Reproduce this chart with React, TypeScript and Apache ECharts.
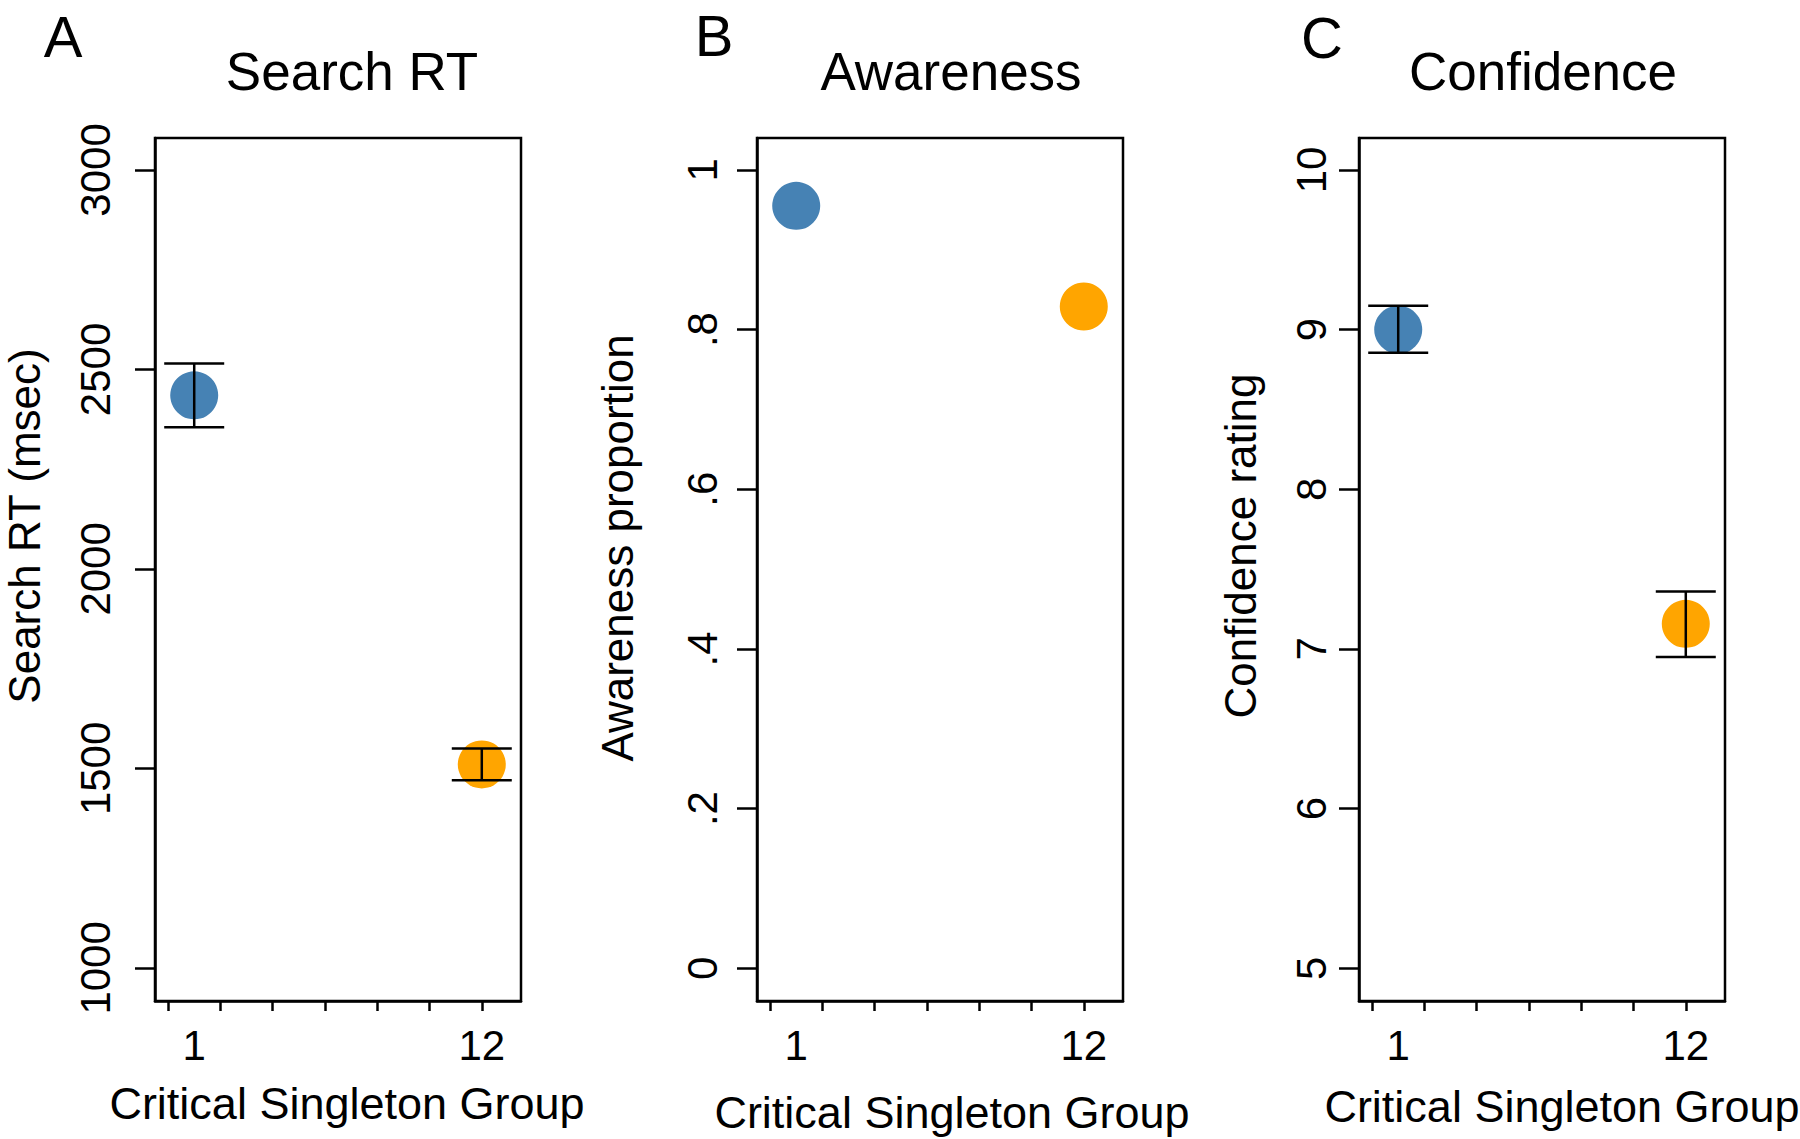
import React, { useEffect, useRef } from "react";
import * as echarts from "echarts";

// ---------- data ----------
const groups = [1, 12];
const groupColors = ["#4682B4", "#FFA500"];

const rtMean = [2435, 1510];
const rtLow = [2355, 1470];
const rtHigh = [2515, 1550];

const awareness = [0.955, 0.829];

const confMean = [9.0, 7.157];
const confLow = [8.855, 6.95];
const confHigh = [9.15, 7.36];

const xTicks = [0, 2, 4, 6, 8, 10, 12];
const xLabels = [1, 12];
const rtTicks = [1000, 1500, 2000, 2500, 3000];
const awTicks = [0, 0.2, 0.4, 0.6, 0.8, 1];
const confTicks = [5, 6, 7, 8, 9, 10];

const panelLetters = ["A", "B", "C"];
const panelTitles = ["Search RT", "Awareness", "Confidence"];
const yTitles = ["Search RT (msec)", "Awareness proportion", "Confidence rating"];
const xTitle = "Critical Singleton Group";

const FONT = '"Liberation Sans", Arial, Helvetica, sans-serif';

function awFmt(v: number): string {
  if (v === 0) return "0";
  if (v === 1) return "1";
  return String(v).replace(/^0/, "");
}

export default function App() {
  const ref = useRef<HTMLDivElement>(null);

  useEffect(() => {
    if (!ref.current) return;
    const chart = echarts.init(ref.current, undefined, { renderer: "svg" });

    const gridLefts = [155, 757, 1359];
    const gridTop = 138;
    const gridW = 366;
    const gridH = 863;
    const yRanges = [
      [917, 3080],
      [-0.041, 1.04],
      [4.795, 10.2],
    ];
    const yTickSets = [rtTicks, awTicks, confTicks];
    const yLabelMargins = [39, 34, 27];
    const yFormatters = [
      (v: number) => String(v),
      (v: number) => awFmt(v),
      (v: number) => String(v),
    ];

    const grids = gridLefts.map((l) => ({
      left: l,
      top: gridTop,
      width: gridW,
      height: gridH,
      show: true,
      borderColor: "#000",
      borderWidth: 2.5,
      backgroundColor: "transparent",
      containLabel: false,
    }));

    const xAxes = gridLefts.map((_, i) => ({
      type: "value",
      gridIndex: i,
      min: -0.5,
      max: 13.5,
      splitLine: { show: false },
      axisLine: { show: true, onZero: false, lineStyle: { color: "#000", width: 2.5 } },
      axisTick: {
        show: true,
        customValues: xTicks,
        length: 10,
        inside: false,
        lineStyle: { color: "#000", width: 2.5 },
      },
      axisLabel: {
        show: true,
        customValues: xLabels,
        formatter: (v: number) => String(v),
        fontSize: 42,
        fontFamily: FONT,
        color: "#000",
        margin: 23,
      },
    }));

    const yAxes = gridLefts.map((_, i) => ({
      type: "value",
      gridIndex: i,
      min: yRanges[i][0],
      max: yRanges[i][1],
      splitLine: { show: false },
      axisLine: { show: true, onZero: false, lineStyle: { color: "#000", width: 2.5 } },
      axisTick: {
        show: true,
        customValues: yTickSets[i],
        length: 20,
        inside: false,
        lineStyle: { color: "#000", width: 2.5 },
      },
      axisLabel: {
        show: true,
        customValues: yTickSets[i],
        formatter: yFormatters[i],
        rotate: 90,
        fontSize: 42,
        fontFamily: FONT,
        color: "#000",
        margin: yLabelMargins[i],
      },
    }));

    const errRender = (params: any, api: any) => {
      const x = api.value(0);
      const lo = api.value(1);
      const hi = api.value(2);
      const pLo = api.coord([x, lo]);
      const pHi = api.coord([x, hi]);
      const hw = 30;
      const st = { stroke: "#000", lineWidth: 2.5 };
      return {
        type: "group",
        children: [
          { type: "line", shape: { x1: pLo[0], y1: pLo[1], x2: pHi[0], y2: pHi[1] }, style: st },
          { type: "line", shape: { x1: pLo[0] - hw, y1: pLo[1], x2: pLo[0] + hw, y2: pLo[1] }, style: st },
          { type: "line", shape: { x1: pHi[0] - hw, y1: pHi[1], x2: pHi[0] + hw, y2: pHi[1] }, style: st },
        ],
      };
    };

    const means = [rtMean, awareness, confMean];
    const series: any[] = [];
    means.forEach((m, i) => {
      series.push({
        type: "scatter",
        xAxisIndex: i,
        yAxisIndex: i,
        symbol: "circle",
        symbolSize: 48,
        z: 2,
        itemStyle: { opacity: 1 },
        data: groups.map((g, k) => ({
          value: [g, m[k]],
          itemStyle: { color: groupColors[k], opacity: 1 },
        })),
      });
    });
    const errSets = [
      { i: 0, lo: rtLow, hi: rtHigh },
      { i: 2, lo: confLow, hi: confHigh },
    ];
    errSets.forEach((e) => {
      series.push({
        type: "custom",
        xAxisIndex: e.i,
        yAxisIndex: e.i,
        z: 5,
        renderItem: errRender,
        encode: { x: 0, y: [1, 2] },
        data: groups.map((g, k) => [g, e.lo[k], e.hi[k]]),
      });
    });

    const letterPos = [
      [63, 36],
      [714, 35],
      [1322, 37],
    ];
    const titleX = [352, 951, 1543];
    const yTitlePos = [
      [24, 526],
      [617, 548],
      [1240, 546],
    ];
    const xTitlePos = [
      [347, 1103],
      [952, 1112],
      [1562, 1106],
    ];

    const graphics: any[] = [];
    for (let i = 0; i < 3; i++) {
      graphics.push({
        type: "text",
        x: letterPos[i][0],
        y: letterPos[i][1],
        style: {
          text: panelLetters[i],
          fontSize: 58,
          fontFamily: FONT,
          fill: "#000",
          textAlign: "center",
          textVerticalAlign: "middle",
        },
      });
      graphics.push({
        type: "text",
        x: titleX[i],
        y: 71,
        style: {
          text: panelTitles[i],
          fontSize: 53,
          fontFamily: FONT,
          fill: "#000",
          textAlign: "center",
          textVerticalAlign: "middle",
        },
      });
      graphics.push({
        type: "text",
        x: yTitlePos[i][0],
        y: yTitlePos[i][1],
        rotation: Math.PI / 2,
        style: {
          text: yTitles[i],
          fontSize: 44,
          fontFamily: FONT,
          fill: "#000",
          textAlign: "center",
          textVerticalAlign: "middle",
        },
      });
      graphics.push({
        type: "text",
        x: xTitlePos[i][0],
        y: xTitlePos[i][1],
        style: {
          text: xTitle,
          fontSize: 45,
          fontFamily: FONT,
          fill: "#000",
          textAlign: "center",
          textVerticalAlign: "middle",
        },
      });
    }

    chart.setOption({
      animation: false,
      backgroundColor: "#fff",
      textStyle: { fontFamily: FONT },
      grid: grids,
      xAxis: xAxes,
      yAxis: yAxes,
      series,
      graphic: graphics,
    });

    return () => chart.dispose();
  }, []);

  return (
    <div
      ref={ref}
      style={{ position: "absolute", left: 0, top: 0, width: 1800, height: 1139 }}
    />
  );
}
